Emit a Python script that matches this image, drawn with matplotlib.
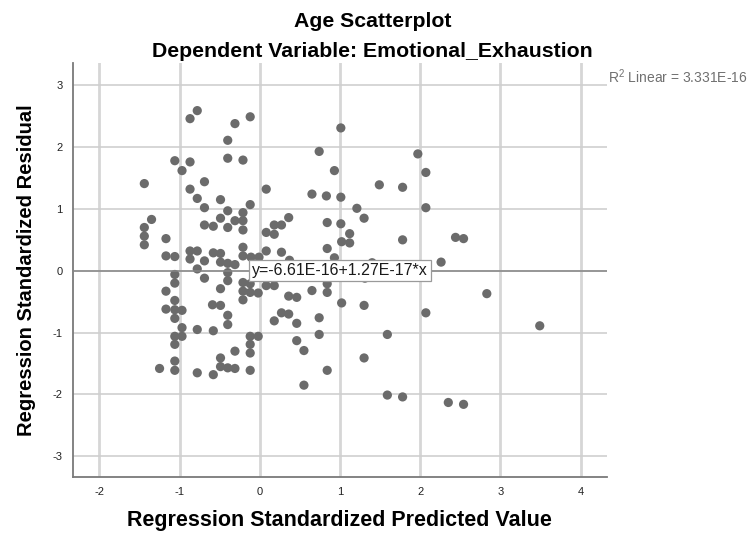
import matplotlib
matplotlib.use("Agg")
import matplotlib.pyplot as plt

# standardized predicted value (x) and standardized residual (y)
pred_upper = [-1.44, -1.35, -1.44, -1.44, -1.44, -1.17, -1.17, -1.06, -1.06, -0.97,
              -0.87, -0.87, -0.78, -0.87, -0.78, -0.69, -0.69, -0.69, -0.58, -0.49,
              -0.49, -0.40, -0.40, -0.40, -0.40, -0.31, -0.21, -0.12, -0.12, -0.21,
              -0.31, -0.21, -0.21, -0.21, -0.87, -0.78, -0.87, -0.69, -0.58, -0.49,
              -0.49, -0.40, -0.31, -0.78, -0.21, -0.11, -0.01, 0.08, 0.08, 0.08,
              0.18, 0.18, 0.27, 0.36, 0.27, 0.37, 0.65, 0.83, 0.74, 0.93,
              1.01, 1.01, 0.84, 1.01, 0.84, 1.02, 0.93, 1.97, 2.07, 1.49,
              1.78, 1.21, 2.07, 1.30, 1.12, 1.12, 1.78, 2.44, 2.54, 2.26,
              1.40]
resid_upper = [1.41, 0.83, 0.70, 0.56, 0.42, 0.52, 0.24, 0.23, 1.78, 1.62,
               1.76, 2.46, 2.59, 1.32, 1.17, 1.44, 1.02, 0.74, 0.72, 1.15,
               0.85, 0.97, 0.70, 2.11, 1.82, 2.38, 1.79, 2.49, 1.07, 0.94,
               0.81, 0.81, 0.66, 0.38, 0.32, 0.32, 0.19, 0.16, 0.29, 0.28,
               0.14, 0.12, 0.10, 0.03, 0.24, 0.22, 0.22, 0.32, 1.32, 0.62,
               0.59, 0.74, 0.74, 0.86, 0.30, 0.17, 1.24, 1.21, 1.93, 1.62,
               2.31, 1.19, 0.78, 0.76, 0.36, 0.47, 0.21, 1.89, 1.59, 1.39,
               1.35, 1.01, 1.02, 0.85, 0.60, 0.45, 0.50, 0.54, 0.52, 0.14,
               0.13]

pred_lower = [-1.06, -1.06, -1.17, -1.06, -1.17, -1.06, -0.97, -1.06, -0.97, -0.78,
              -0.58, -1.06, -0.97, -1.06, -1.06, -1.25, -1.06, -0.78, -0.58, -0.49,
              -0.49, -0.40, -0.31, -0.12, -0.31, -0.12, -0.12, -0.12, -0.02, -0.40,
              -0.40, -0.59, -0.49, -0.49, -0.69, -0.40, -0.40, -0.21, -0.12, -0.21,
              -0.12, -0.02, -0.21, 0.08, 0.18, 0.36, 0.46, 0.27, 0.36, 0.18,
              0.46, 0.46, 0.55, 0.55, 0.65, 0.74, 0.74, 0.84, 0.84, 0.84,
              1.02, 1.30, 2.07, 2.83, 3.49, 1.59, 1.30, 1.59, 1.78, 2.35,
              2.54, 1.31]
resid_lower = [-0.06, -0.20, -0.33, -0.48, -0.62, -0.63, -0.64, -0.77, -0.92, -0.95,
               -0.97, -1.06, -1.06, -1.19, -1.46, -1.58, -1.61, -1.65, -1.68, -1.41,
               -1.55, -1.57, -1.58, -1.61, -1.30, -1.19, -1.33, -1.06, -1.06, -0.72,
               -0.87, -0.55, -0.56, -0.29, -0.12, -0.03, -0.16, -0.19, -0.21, -0.33,
               -0.35, -0.36, -0.47, -0.24, -0.24, -0.41, -0.43, -0.68, -0.70, -0.81,
               -0.85, -1.13, -1.29, -1.85, -0.32, -0.76, -1.03, -1.61, -0.35, -0.21,
               -0.52, -0.56, -0.68, -0.37, -0.89, -1.03, -1.41, -2.01, -2.04, -2.13,
               -2.16, -0.12]

fit_intercept = -6.61e-16
fit_slope = 1.27e-17
x_ticks = [-2, -1, 0, 1, 2, 3, 4]
y_ticks = [-3, -2, -1, 0, 1, 2, 3]

plt.rcParams['font.family'] = ['Liberation Sans', 'DejaVu Sans']
plt.rcParams['axes.unicode_minus'] = False


def main():
    fig = plt.figure(figsize=(7.54, 5.33), dpi=100)
    ax = fig.add_axes([0.0962, 0.1045, 0.709, 0.7773])

    xlim = (-2.335, 4.33)
    ax.set_xlim(*xlim)
    ax.set_ylim(-3.34, 3.36)

    for xv in x_ticks:
        ax.axvline(xv, color='#d6d6d6', lw=2.0, zorder=1)
    for yv in y_ticks:
        ax.axhline(yv, color='#cfcfcf', lw=1.2, zorder=1)

    xs = pred_upper + pred_lower
    ys = resid_upper + resid_lower
    ax.scatter(xs, ys, s=44, color='#6b6b6b', edgecolors='none', zorder=3)

    ax.plot(xlim, [fit_intercept + fit_slope * v for v in xlim],
            color='#858585', lw=1.1, zorder=4)

    ax.text(-0.10, 0.0, 'y=-6.61E-16+1.27E-17*x', fontsize=11.5, color='#1a1a1a',
            ha='left', va='center', zorder=5,
            bbox=dict(boxstyle='square,pad=0.2', fc='white', ec='#9a9a9a', lw=0.9))

    ax.set_xticks(x_ticks)
    ax.set_yticks(y_ticks)
    ax.tick_params(length=0, labelsize=8, colors='#222222', pad=7)
    for side in ['top', 'right']:
        ax.spines[side].set_visible(False)
    for side in ['left', 'bottom']:
        ax.spines[side].set_color('#7a7a7a')
        ax.spines[side].set_linewidth(1.3)

    ax.set_xlabel('Regression Standardized Predicted Value', fontsize=15.5,
                  fontweight='bold', labelpad=9)
    ax.set_ylabel('Regression Standardized Residual', fontsize=14.5,
                  fontweight='bold', labelpad=12)

    fig.text(0.494, 0.9493, 'Age Scatterplot', fontsize=15.3, fontweight='bold',
             ha='center', va='baseline')
    fig.text(0.494, 0.893, 'Dependent Variable: Emotional_Exhaustion', fontsize=15.3,
             fontweight='bold', ha='center', va='baseline')
    fig.text(0.806, 0.857, 'R$^{\\mathregular{2}}$ Linear = 3.331E-16', fontsize=10,
             color='#707070', ha='left', va='center')

    fig.savefig('out.png', dpi=100)


if __name__ == "__main__":
    main()
